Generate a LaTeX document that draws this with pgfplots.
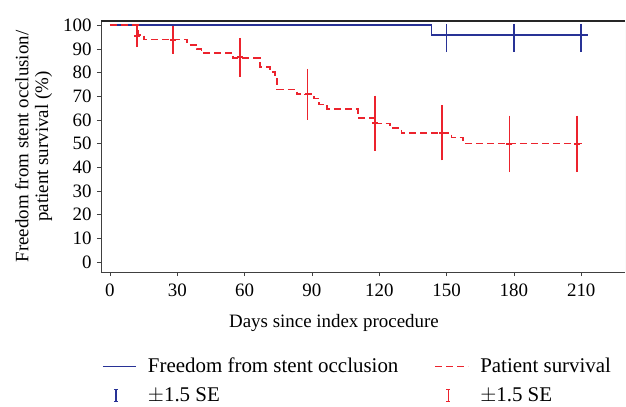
\documentclass[border=0pt]{standalone}
\usepackage{fontspec}
\setmainfont{Liberation Serif}
\usepackage{pgfplots}
\pgfplotsset{compat=1.18}

\definecolor{occblue}{RGB}{40,50,150}
\definecolor{survred}{RGB}{236,35,45}

\pgfplotsset{
  kmline/.style={legend image code/.code={
      \path[draw=none] (0bp,0bp) -- (43bp,0bp);
      \draw[##1] (0bp,0bp) -- (33bp,0bp);}},
  sebar/.style={legend image code/.code={
      \path[draw=none] (0bp,0bp) -- (43bp,0bp);
      \draw[line width=1.3pt, color=#1] (13bp,-6bp) -- (13bp,6bp);
      \draw[line width=1.3pt, color=#1] (11bp,-6bp) -- (15bp,-6bp);
      \draw[line width=1.3pt, color=#1] (11bp,6bp) -- (15bp,6bp);}},
}

\begin{document}
\begin{tikzpicture}
\fontsize{19}{22}\selectfont
\useasboundingbox (-101bp,-135bp) rectangle (525bp,272bp);
\begin{axis}[
  scale only axis,
  width=524bp, height=251bp,
  xmin=-4, xmax=229.5,
  ymin=-4.2, ymax=101.8,
  axis x line*=bottom, axis y line*=left,
  axis line style={black!75, line width=0.8pt},
  xtick={0,30,...,210},
  ytick={0,10,...,100},
  tick align=outside,
  major tick length=4bp,
  tick style={black!75, line width=0.8pt},
  /pgf/number format/assume math mode=true,
  ticklabel style={font=\fontsize{19}{22}\selectfont},
  yticklabel style={xshift=1bp},
  xticklabel style={yshift=-1bp},
  xlabel={Days since index procedure},
  ylabel={Freedom from stent occlusion/\\patient survival (\%)},
  ylabel style={align=center, yshift=-2bp},
  xlabel style={xshift=-29bp, yshift=-5bp},
  label style={font=\fontsize{19}{20}\selectfont},
  legend columns=2,
  legend style={draw=none, fill=none, at={(axis description cs:-0.004,-0.325)}, anchor=north west,
    font=\fontsize{21}{23}\selectfont, row sep=8bp,
    /tikz/every even column/.append style={column sep=34bp}},
  legend cell align=left,
]
\addplot[const plot, color=occblue, draw=occblue, line width=1.8pt, kmline] coordinates {
  (0,100) (143.3,95.8) (213,95.8)};
\addlegendentry{Freedom from stent occlusion}
\addplot[const plot, color=survred, draw=survred, line width=1.8pt, dash pattern=on 7bp off 4bp, kmline] coordinates {
  (0,100) (12.5,96) (15,94) (34.3,91.8) (38.6,90.1) (40.8,88.3) (54.9,86.2)
  (66.8,82.4) (71.3,80.3) (73.5,78.9) (74.5,72.9) (83.2,71.0) (90.9,69.1)
  (93.1,66.5) (96.8,64.5) (110.6,60.9) (118,58.5) (124.7,56.7) (129.9,54.6)
  (152.2,52.6) (157.4,50.1) (212,50.1)};
\addlegendentry{Patient survival}
\addplot[color=occblue, line width=1.7pt, only marks, mark=-, mark size=3bp, sebar=occblue,
  error bars/.cd, y dir=both, y explicit, error mark=-,
  error mark options={mark size=3bp, line width=1.7pt, color=occblue},
  error bar style={line width=1.7pt, color=occblue}]
  coordinates {
  (150,95.8) += (0,3.5) -= (0,5.9)
  (180,95.8) += (0,3.5) -= (0,5.9)
  (210,95.8) += (0,3.5) -= (0,5.9)};
\addlegendentry{$\pm$1.5 SE}
\addplot[color=survred, line width=1.7pt, only marks, mark=-, mark size=3bp, sebar=survred,
  error bars/.cd, y dir=both, y explicit, error mark=-,
  error mark options={mark size=3bp, line width=1.7pt, color=survred},
  error bar style={line width=1.7pt, color=survred}]
  coordinates {
  (12,95.5) +- (0,3.5)
  (28,93.9) +- (0,4.7)
  (58,86.5) +- (0,6.9)
  (88,70.8) +- (0,9.5)
  (118,58.6) +- (0,10.4)
  (148,54.6) +- (0,10.4)
  (178,49.9) +- (0,10.7)
  (208,49.9) +- (0,10.7)};
\addlegendentry{$\pm$1.5 SE}
\draw[black!85, line width=1.3pt] (rel axis cs:0,1) -- (rel axis cs:1,1);
\draw[black!15, line width=0.8pt] (rel axis cs:1,0) -- (rel axis cs:1,1);
\end{axis}
\end{tikzpicture}
\end{document}
